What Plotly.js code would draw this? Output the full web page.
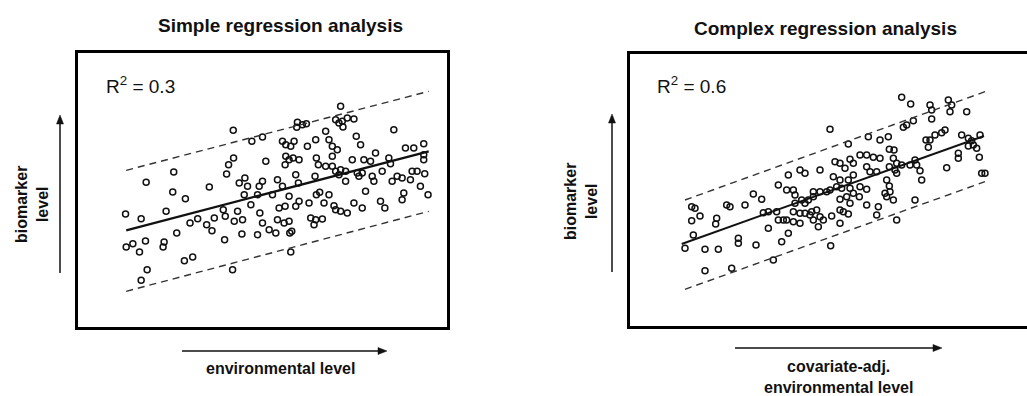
<!DOCTYPE html>
<html>
<head>
<meta charset="utf-8">
<script src="https://cdn.plot.ly/plotly-3.0.1.min.js"></script>
<style>html,body{margin:0;padding:0;background:#fff;}#chart{width:1027px;height:396px;}</style>
</head>
<body>
<div id="chart"></div>
<script>
// ---- Data (arbitrary units) ----
const simpleX = [16.8,21.5,23.0,17.0,19.0,21.0,22.8,28.4,28.1,29.0,31.3,31.0,32.2,34.8,23.3,21.5,34.5,37.0,36.2,38.5,42.0,41.2,42.8,43.5,46.2,46.8,49.2,49.3,47.8,47.2,49.0,46.6,49.5,50.5,52.0,51.8,51.0,52.7,53.5,52.5,54.5,54.8,56.5,58.0,59.0,57.0,58.0,57.2,58.0,56.5,60.0,62.0,61.0,62.5,64.0,63.0,64.8,62.5,64.5,66.0,64.0,65.0,66.5,67.5,65.0,66.0,67.2,69.0,64.8,66.0,66.2,66.8,66.5,68.5,70.0,71.2,68.3,68.0,68.8,69.0,68.0,71.5,74.0,74.2,74.8,73.8,74.2,75.2,72.0,72.5,74.0,76.0,73.5,77.0,76.5,77.0,79.0,78.0,79.5,78.0,79.0,80.0,81.0,82.0,83.5,85.5,81.5,82.2,80.5,79.0,80.0,81.5,83.0,81.0,83.0,80.0,81.5,83.5,85.0,86.2,87.5,86.5,88.0,87.0,88.5,85.5,88.0,89.0,90.5,92.0,91.0,91.5,94.0,93.5,94.8,96.0,96.5,97.5,97.0,98.5,100.0,100.5,100.0,101.0,103.5,103.0,102.5,104.5,106.5,106.5,106.5,106.8,105.5,107.8];
const simpleY = [37.7,36.3,47.2,27.8,28.8,26.3,29.6,29.3,27.8,38.5,50.3,44.3,32.0,42.3,21.0,17.8,23.7,24.8,35.0,36.3,45.8,34.5,32.7,36.5,39.0,37.0,62.8,54.5,52.5,49.7,21.0,30.0,35.5,38.5,36.0,31.7,47.0,48.5,46.0,43.5,40.5,59.5,43.5,60.8,53.5,46.0,47.5,38.0,35.0,31.5,33.0,32.0,43.5,48.0,46.0,39.5,40.0,36.0,35.0,35.5,59.5,58.5,58.0,59.5,55.0,54.0,54.5,54.0,52.5,43.0,32.0,32.5,26.3,65.2,64.5,64.8,63.7,49.5,47.0,41.5,40.0,58.0,60.0,54.5,52.5,49.0,43.5,44.2,41.0,36.5,36.0,36.2,34.5,62.5,41.0,52.0,52.0,43.5,40.2,60.0,58.0,66.0,65.0,65.5,66.5,66.2,70.0,63.8,57.0,55.0,50.5,51.0,50.5,49.5,47.5,39.0,38.5,38.0,54.0,61.0,58.5,50.0,50.0,49.0,54.0,41.0,39.5,44.5,53.5,56.0,49.0,47.5,50.5,41.5,39.5,54.5,52.8,63.0,47.5,49.0,48.5,44.0,42.0,57.5,57.5,50.5,48.0,50.5,58.8,55.5,54.0,49.8,46.0,43.5];
const simpleFitX = [17.0, 108.0];
const simpleFitY = [32.8, 56.5];
const simpleUpperY = [50.8, 74.5];
const simpleLowerY = [14.5, 38.5];

const complexX = [84.5,87.2,93.0,93.5,98.5,99.5,99.0,104.0,93.5,88.0,85.0,86.0,97.5,96.5,94.5,93.0,91.8,92.5,102.5,104.5,105.5,108.0,104.5,106.0,107.0,107.8,101.5,101.5,108.5,109.5,98.0,88.5,89.0,87.0,90.0,90.5,83.0,84.5,82.5,82.0,83.0,80.8,82.2,80.8,80.0,80.8,81.0,79.5,80.0,82.0,78.0,80.5,74.5,68.5,63.0,72.0,74.0,76.0,78.0,69.0,64.5,66.0,70.0,67.5,74.0,75.0,77.0,70.0,68.5,64.0,66.0,65.0,63.0,66.5,69.0,72.0,74.0,70.0,71.8,68.0,66.0,69.0,74.0,77.5,77.0,66.0,67.0,68.5,63.5,61.0,66.0,60.0,55.5,54.0,50.5,47.5,50.0,52.0,52.5,54.5,55.5,56.5,58.0,58.0,60.0,62.0,52.5,52.0,54.0,55.5,57.5,59.0,60.0,57.0,58.0,54.0,59.5,43.0,44.5,47.0,47.5,49.0,50.0,52.0,50.5,48.5,44.5,40.8,35.5,35.5,63.2,40.0,37.5,42.5,32.0,33.0,21.5,22.5,24.0,21.5,29.0,28.7,22.0,19.5,25.5,29.5,25.5,33.5,46.0,88.5,83.0];
const complexY = [72.8,70.8,70.5,69.0,72.0,70.5,68.5,68.5,66.3,65.8,63.8,64.5,63.0,62.2,61.5,60.0,60.0,57.8,61.5,60.5,59.8,61.5,58.2,58.5,57.5,54.8,56.0,54.5,50.0,50.0,51.7,54.0,52.5,52.5,50.8,48.0,53.0,52.5,51.0,54.5,50.0,57.2,57.0,52.0,48.0,46.2,44.5,44.0,43.0,42.0,60.0,61.0,61.0,58.8,63.2,55.5,55.5,54.8,54.5,54.2,53.5,53.0,53.0,51.5,52.0,50.5,50.5,49.5,48.0,49.0,48.0,46.0,45.0,45.5,45.5,46.0,45.2,44.0,43.0,43.0,42.2,41.0,40.5,40.0,37.5,39.0,38.5,37.8,37.2,36.0,35.0,51.0,50.0,51.0,49.5,46.5,45.0,45.0,43.5,42.0,41.0,42.0,43.0,44.5,44.5,44.5,41.0,38.5,38.0,38.0,38.5,39.0,37.0,37.5,36.0,35.0,34.0,38.2,38.5,38.5,36.0,36.0,36.0,35.5,32.0,29.5,33.5,28.5,30.5,29.0,28.3,43.8,40.5,42.2,40.5,40.0,40.0,39.5,37.2,35.8,36.5,34.8,31.5,27.5,27.2,27.2,20.8,21.5,24.0,42.0,36.0];
const complexFitX = [18.5, 109.2];
const complexFitY = [28.8, 61.2];
const complexBandX = [19.5, 109.5];
const complexUpperY = [42.0, 74.5];
const complexLowerY = [15.2, 47.5];

const titles = ["Simple regression analysis", "Complex regression analysis"];
const rsq = ["R<sup>2</sup> = 0.3", "R<sup>2</sup> = 0.6"];
const xLabels = ["environmental level", "covariate-adj.<br>environmental level"];
const yLabel = "biomarker<br>level";

// ---- Figure ----
const W = 1027, H = 396;
const px = v => v / W;
const py = v => (H - v) / H;
const INK = '#111';
const FONT = 'Liberation Sans, Arial, Helvetica, sans-serif';

const markerStyle = {symbol: 'circle-open', size: 6, color: INK, line: {width: 1.5, color: INK}};
const dashStyle = {color: '#333', width: 1.4, dash: '7px,5px'};
const traces = [
  {x: simpleX, y: simpleY, xaxis: 'x', yaxis: 'y', mode: 'markers', type: 'scatter', marker: markerStyle, hoverinfo: 'skip'},
  {x: simpleFitX, y: simpleFitY, xaxis: 'x', yaxis: 'y', mode: 'lines', line: {color: INK, width: 2.3}},
  {x: simpleFitX, y: simpleUpperY, xaxis: 'x', yaxis: 'y', mode: 'lines', line: dashStyle},
  {x: simpleFitX, y: simpleLowerY, xaxis: 'x', yaxis: 'y', mode: 'lines', line: dashStyle},
  {x: complexX, y: complexY, xaxis: 'x2', yaxis: 'y2', mode: 'markers', type: 'scatter', marker: markerStyle, hoverinfo: 'skip'},
  {x: complexFitX, y: complexFitY, xaxis: 'x2', yaxis: 'y2', mode: 'lines', line: {color: INK, width: 1.9}},
  {x: complexBandX, y: complexUpperY, xaxis: 'x2', yaxis: 'y2', mode: 'lines', line: dashStyle},
  {x: complexBandX, y: complexLowerY, xaxis: 'x2', yaxis: 'y2', mode: 'lines', line: dashStyle}
];

const axBase = {showgrid: false, zeroline: false, showticklabels: false, ticks: '', showline: true, linecolor: '#000', linewidth: 3, fixedrange: true};

function txt(text, x, y, size, extra) {
  return Object.assign({text: text, x: px(x), y: py(y), xref: 'paper', yref: 'paper', showarrow: false,
    xanchor: 'center', yanchor: 'middle', font: {family: FONT, size: size, color: INK, weight: 'bold'}}, extra || {});
}
// arrows drawn as a line shape plus a filled triangular head (pixel positions -> paper)
function arrowShapes(tx, ty, hx, hy) {
  const L = 9, Wd = 3.5;
  const dx = hx - tx, dy = hy - ty, len = Math.hypot(dx, dy);
  const ux = dx / len, uy = dy / len;
  const bx = hx - ux * L, by = hy - uy * L;
  const p1 = [bx - uy * Wd, by + ux * Wd], p2 = [bx + uy * Wd, by - ux * Wd];
  return [
    {type: 'line', xref: 'paper', yref: 'paper', x0: px(tx), y0: py(ty), x1: px(bx + ux * 1), y1: py(by + uy * 1), line: {color: INK, width: 1.5}},
    {type: 'path', xref: 'paper', yref: 'paper', fillcolor: INK, line: {color: INK, width: 0.5},
     path: 'M' + px(hx) + ',' + py(hy) + ' L' + px(p1[0]) + ',' + py(p1[1]) + ' L' + px(p2[0]) + ',' + py(p2[1]) + ' Z'}
  ];
}

const layout = {
  width: W, height: H,
  margin: {l: 0, r: 0, t: 0, b: 0},
  paper_bgcolor: '#fff', plot_bgcolor: '#fff',
  showlegend: false,
  xaxis: Object.assign({}, axBase, {domain: [px(78), px(447)], range: [2.5, 113.5], mirror: true, anchor: 'y'}),
  yaxis: Object.assign({}, axBase, {domain: [py(327), py(53)], range: [3.8, 86], mirror: true, anchor: 'x'}),
  xaxis2: Object.assign({}, axBase, {domain: [px(630), 1], range: [3.0, 122.1], mirror: true, anchor: 'y2'}),
  yaxis2: Object.assign({}, axBase, {domain: [py(326), py(54)], range: [4.2, 85.8], mirror: false, anchor: 'x2'}),
  shapes: [].concat(
    arrowShapes(182, 351, 387, 351),
    arrowShapes(735, 348, 942, 348),
    arrowShapes(60, 273, 60, 115),
    arrowShapes(612, 272, 612, 114)
  ),
  annotations: [
    txt(titles[0], 280, 25, 19),
    txt(titles[1], 825, 28, 19),
    txt(rsq[0], 104, 85, 19, {xanchor: 'left', font: {family: FONT, size: 19, color: INK}}),
    txt(rsq[1], 655, 85, 19, {xanchor: 'left', font: {family: FONT, size: 19, color: INK}}),
    txt(xLabels[0], 280, 368, 16),
    txt(xLabels[1], 838, 377, 16),
    txt(yLabel, 32, 205, 16, {textangle: -90}),
    txt(yLabel, 581, 202, 16, {textangle: -90})
  ]
};

Plotly.newPlot('chart', traces, layout, {displayModeBar: false, staticPlot: true});
</script>
</body>
</html>
